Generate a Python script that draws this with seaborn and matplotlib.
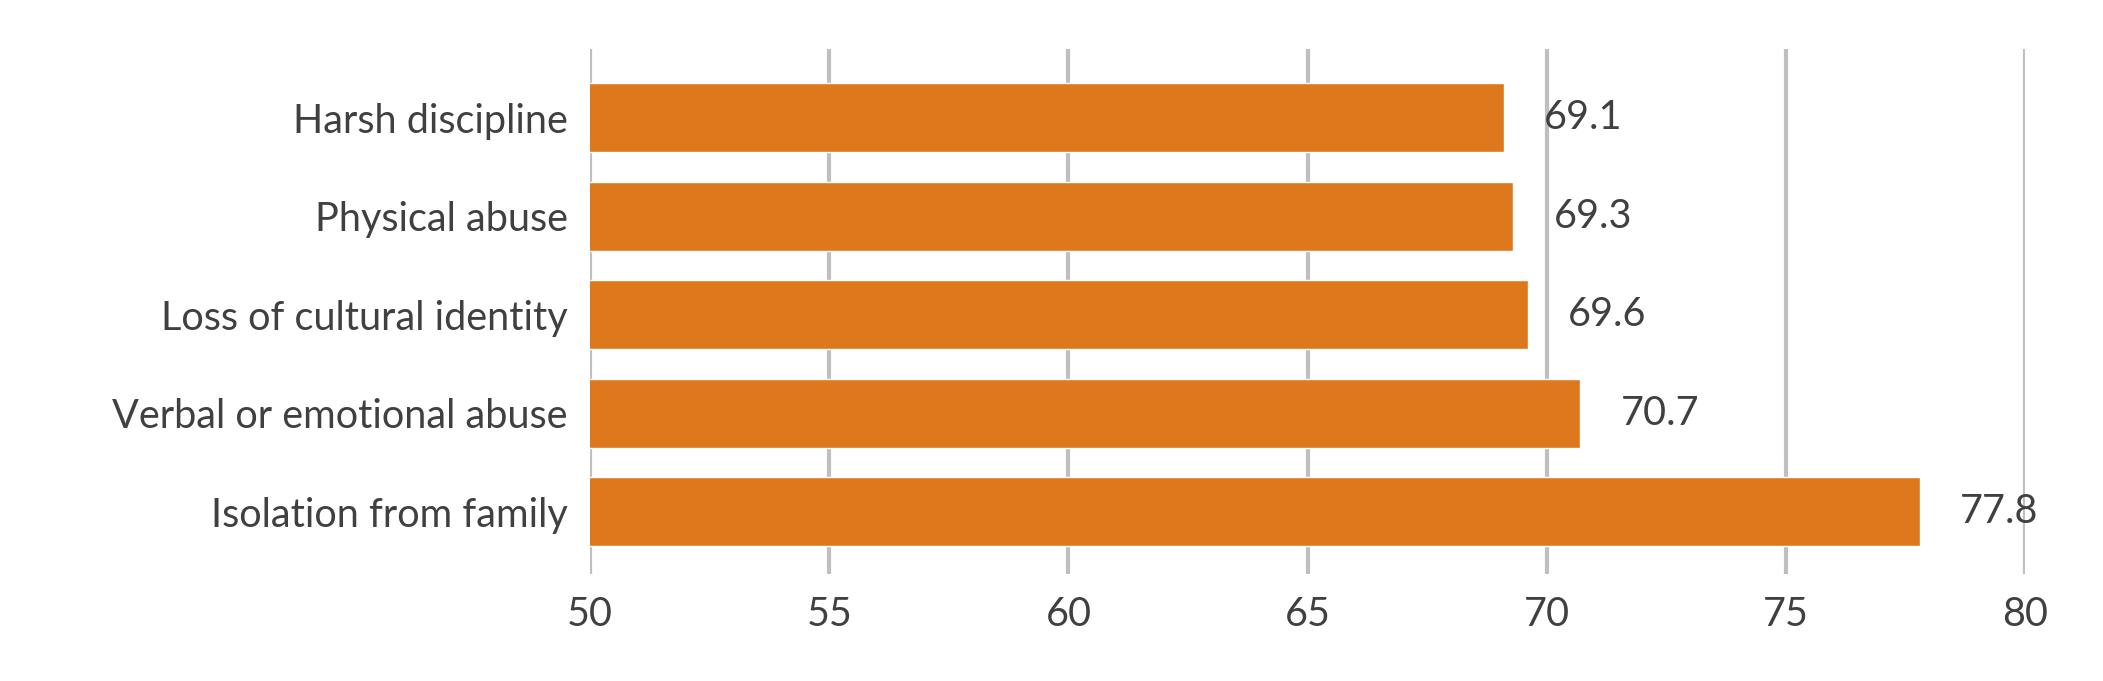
import pandas as pd
import seaborn as sns
import matplotlib.pyplot as plt


categories = [
    "Harsh discipline",
    "Physical abuse",
    "Loss of cultural identity",
    "Verbal or emotional abuse",
    "Isolation from family",
]
values = [69.1, 69.3, 69.6, 70.7, 77.8]
x_ticks = [50, 55, 60, 65, 70, 75, 80]

BAR_COLOR = "#DD781C"
TEXT_COLOR = "#404040"
GRID_COLOR = "#BFBFBF"
FONT_SIZE = 28.5

sns.set_theme(style="white")
plt.rcParams["font.family"] = ["Lato", "DejaVu Sans"]

data = pd.DataFrame({"category": categories, "value": values})

fig = plt.figure(figsize=(21.03, 6.81), dpi=100)
ax = fig.add_axes([0.2806, 0.157, 0.963 - 0.2806, 0.9285 - 0.157])

sns.barplot(data=data, x="value", y="category", orient="h", color=BAR_COLOR,
            saturation=1, width=0.7, ax=ax, zorder=2)

ax.set_xlim(50, 80)
ax.set_ylim(4.63, -0.70)
ax.set_xticks(x_ticks)
for t in x_ticks:
    ax.axvline(t, color=GRID_COLOR, lw=3, zorder=1)

for spine in ax.spines.values():
    spine.set_visible(False)

ax.set_xlabel("")
ax.set_ylabel("")
ax.tick_params(axis="x", length=0, pad=16, labelsize=FONT_SIZE, labelcolor=TEXT_COLOR)
ax.tick_params(axis="y", length=0, pad=16, labelsize=FONT_SIZE, labelcolor=TEXT_COLOR)

ax.bar_label(ax.containers[0], labels=[f"{v:.1f}" for v in values], padding=29,
             fontsize=FONT_SIZE, color=TEXT_COLOR)

fig.savefig("out.png", dpi=100)
